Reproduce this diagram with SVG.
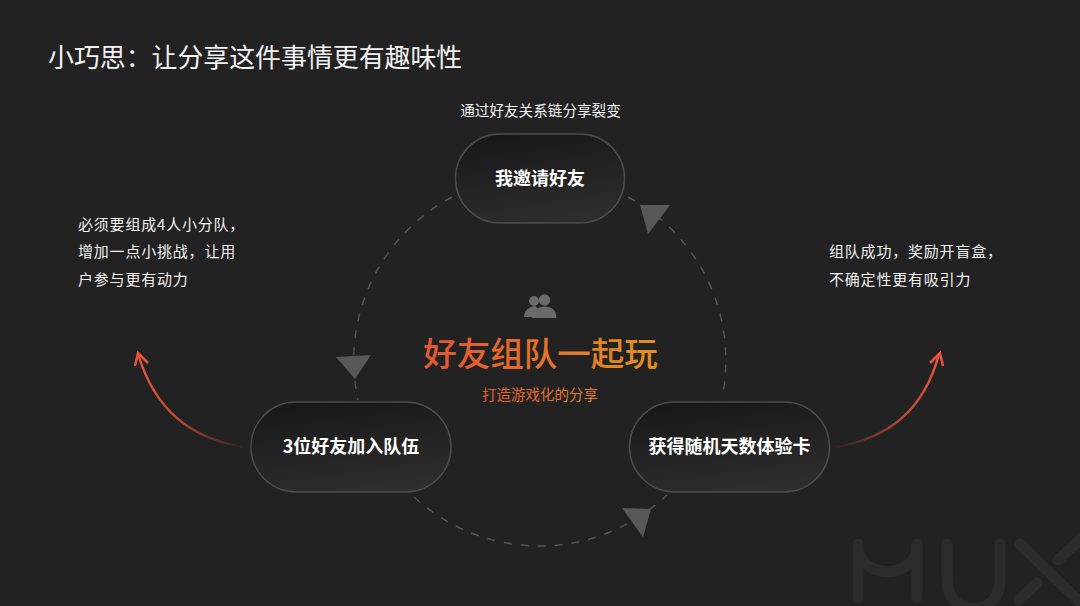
<svg xmlns="http://www.w3.org/2000/svg" width="1080" height="606" viewBox="0 0 1080 606">
<style>
text{font-family:"Noto Sans CJK SC","Noto Sans",sans-serif;fill:#f2f2f2}
.node rect{fill:url(#nodeFill);stroke:#4c4c4c;stroke-width:1.5}
.node text{font-size:18px;font-weight:700;text-anchor:middle;fill:#fff}
.dash{fill:none;stroke:#555;stroke-width:1.5;stroke-dasharray:8 9}
.tri{fill:#585858}
.side{font-size:15px;letter-spacing:.8px}
.mux{fill:none;stroke:#2c2c2c;stroke-width:11;stroke-linecap:round;stroke-linejoin:round}
</style>
<defs>
<linearGradient id="nodeFill" x1="0.35" y1="0" x2="0.65" y2="1"><stop offset="0" stop-color="#191919"/><stop offset="1" stop-color="#2e2e2e"/></linearGradient>
<linearGradient id="redL" gradientUnits="userSpaceOnUse" x1="243" y1="447" x2="138" y2="353"><stop offset="0" stop-color="#e5553c" stop-opacity="0.05"/><stop offset="0.5" stop-color="#e5553c" stop-opacity="0.8"/><stop offset="1" stop-color="#e5553c"/></linearGradient>
<linearGradient id="redR" gradientUnits="userSpaceOnUse" x1="836" y1="447" x2="941" y2="353"><stop offset="0" stop-color="#e5553c" stop-opacity="0.05"/><stop offset="0.5" stop-color="#e5553c" stop-opacity="0.8"/><stop offset="1" stop-color="#e5553c"/></linearGradient>
<linearGradient id="headText" gradientUnits="userSpaceOnUse" x1="423" y1="0" x2="658" y2="0"><stop offset="0.15" stop-color="#e25a33"/><stop offset="0.9" stop-color="#e38d20"/></linearGradient>
<linearGradient id="subText" gradientUnits="userSpaceOnUse" x1="482" y1="0" x2="598" y2="0"><stop offset="0" stop-color="#e25a33"/><stop offset="1" stop-color="#e0802a"/></linearGradient>
</defs>
<rect width="1080" height="606" fill="#222"/>
<g id="watermark" class="mux">
<path d="M858 544V598M858 549C862 579 913 579 917 549M917 544V598"/>
<path d="M947 544V580C947 618 1000 618 1000 580V544"/>
<path d="M1020 544L1082 604M1058 560L1082 538M1019 600L1037 583"/>
</g>
<text id="title" x="48" y="67" style="font-size:25.900px">小巧思：让分享这件事情更有趣味性</text>
<g id="connectors">
<path class="dash" d="M452 197A185 185 0 0 0 358 400"/>
<path class="dash" d="M628 197A185 185 0 0 1 722 398"/>
<path class="dash" d="M414 497A185 185 0 0 0 667 495"/>
<polygon class="tri" points="336,357 371,355 355,379"/>
<polygon class="tri" points="640,205 670,205 648,234"/>
<polygon class="tri" points="622,508 651,509 643,537"/>
<path d="M243 447C190 438 155 410 138 354" fill="none" stroke="url(#redL)" stroke-width="2.500"/>
<path d="M135 366L138 353L148 363" fill="none" stroke="#e5553c" stroke-width="2.500"/>
<path d="M836 447C889 438 924 410 939 354" fill="none" stroke="url(#redR)" stroke-width="2.500"/>
<path d="M930 363L940 353L943 366" fill="none" stroke="#e5553c" stroke-width="2.500"/>
</g>
<g id="node-invite" class="node">
<rect x="455.500" y="134" width="169" height="89" rx="44.500"/>
<text x="540" y="184.500">我邀请好友</text>
</g>
<g id="node-join" class="node">
<rect x="251" y="402" width="200" height="90" rx="45"/>
<text x="351" y="453">3位好友加入队伍</text>
</g>
<g id="node-reward" class="node">
<rect x="629.500" y="402" width="200" height="90" rx="45"/>
<text x="729.500" y="453">获得随机天数体验卡</text>
</g>
<text id="top-note" x="540.500" y="116" text-anchor="middle" style="font-size:14.600px">通过好友关系链分享裂变</text>
<g id="left-note" class="side">
<text x="78" y="230">必须要组成4人小分队，</text>
<text x="78" y="257">增加一点小挑战，让用</text>
<text x="78" y="284.500">户参与更有动力</text>
</g>
<g id="right-note" class="side">
<text x="829" y="257">组队成功，奖励开盲盒，</text>
<text x="829" y="284.500">不确定性更有吸引力</text>
</g>
<g id="people-icon" fill="#6a6a6a">
<circle cx="534" cy="301" r="5"/>
<path d="M524 317C524 310 530 306 536 306L540 317Z"/>
<circle cx="544.500" cy="300" r="5.700"/>
<path d="M532 318C532 310 538 306.500 544.500 306.500C551 306.500 556.500 310 556.500 318Z"/>
</g>
<g id="center">
<text x="540.500" y="366" text-anchor="middle" style="font-size:33.500px;font-weight:500;fill:url(#headText)">好友组队一起玩</text>
<text x="540" y="400" text-anchor="middle" style="font-size:14.500px;fill:url(#subText)">打造游戏化的分享</text>
</g>
</svg>
